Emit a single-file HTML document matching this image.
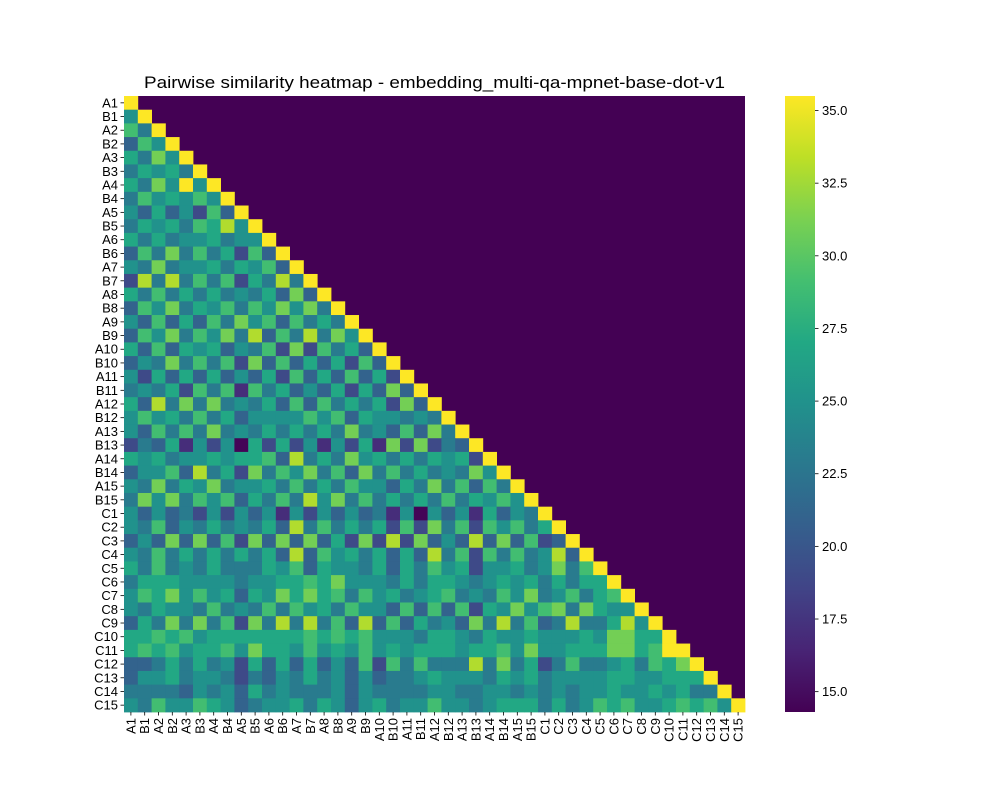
<!DOCTYPE html>
<html><head><meta charset="utf-8">
<style>
body{margin:0;background:#fff;font-family:"Liberation Sans",sans-serif;}
svg text{font-family:"Liberation Sans",sans-serif;}
</style></head>
<body>
<svg id="chart" width="1000" height="800" xmlns="http://www.w3.org/2000/svg">
<rect width="1000" height="800" fill="#fff"/>
<text x="434.5" y="88" font-size="16.5" text-anchor="middle" textLength="581" lengthAdjust="spacingAndGlyphs" fill="#000">Pairwise similarity heatmap - embedding_multi-qa-mpnet-base-dot-v1</text>
<g id="cells"></g>
<g id="ylab"></g>
<g id="xlab"></g>
<defs><linearGradient id="vir" x1="0" y1="1" x2="0" y2="0"></linearGradient></defs>
<rect x="785" y="96" width="30" height="616" fill="url(#vir)"/>
<g id="cbticks"></g>
</svg>
<script>
const labels = ["A1","B1","A2","B2","A3","B3","A4","B4","A5","B5","A6","B6","A7","B7","A8","B8","A9","B9","A10","B10","A11","B11","A12","B12","A13","B13","A14","B14","A15","B15","C1","C2","C3","C4","C5","C6","C7","C8","C9","C10","C11","C12","C13","C14","C15"];
const cbTicks = [15,17.5,20,22.5,25,27.5,30,32.5,35];
const vmin = 14.3, vmax = 35.5;
const values = [
[35.5],
[25,35.5],
[29,23,35.5],
[21,29,25,35.5],
[27,23,31,25,35.5],
[23,27,25,27,23,35.5],
[27,23,31,25,35.5,25,35.5],
[23,29,25,27,25,29,25,35.5],
[25,21,27,21,25,19,29,21,35.5],
[23,27,25,27,23,29,27,33,25,35.5],
[27,23,27,23,25,25,27,23,25,25,35.5],
[21,29,23,31,23,29,23,27,19,29,21,35.5],
[25,23,31,23,25,25,27,23,27,25,29,21,35.5],
[19,33,23,33,23,29,23,29,19,27,23,33,23,35.5],
[27,23,29,23,27,23,27,23,25,23,27,21,31,21,35.5],
[21,29,25,31,23,27,25,29,23,29,25,31,25,31,23,35.5],
[25,21,29,21,27,21,29,23,31,25,29,21,29,23,27,23,35.5],
[21,29,25,31,23,29,25,31,23,33,21,29,23,33,23,31,25,35.5],
[27,21,29,21,27,25,27,21,25,23,29,19,31,19,29,23,27,21,35.5],
[21,25,23,31,23,29,23,29,19,31,21,29,21,27,21,27,19,29,21,35.5],
[25,19,27,21,27,21,27,21,25,21,27,19,29,21,27,21,29,21,27,19,35.5],
[23,25,23,27,19,29,23,29,17,29,23,27,21,25,21,27,19,27,21,31,21,35.5],
[27,21,33,23,31,23,31,23,25,23,27,21,29,21,29,23,27,23,27,19,31,21,35.5],
[25,29,25,27,23,29,23,27,21,25,25,25,25,29,25,29,21,27,25,25,23,25,23,35.5],
[25,21,29,23,29,23,31,23,25,23,27,23,27,23,27,23,31,23,25,21,29,21,31,23,35.5],
[19,23,21,27,17,25,19,25,14.5,27,19,27,19,25,17,25,19,27,17,31,19,31,19,23,21,35.5],
[27,25,27,23,25,25,27,25,27,27,29,21,33,23,27,23,31,25,27,23,27,23,27,25,27,19,35.5],
[21,25,25,29,21,33,23,27,19,31,23,29,25,31,23,29,21,31,23,29,23,27,23,25,23,31,25,35.5],
[25,23,31,23,27,25,31,23,25,25,27,23,29,23,27,23,29,25,25,21,27,23,31,23,29,21,29,23,35.5],
[23,31,25,31,23,29,25,29,21,27,23,29,23,33,25,31,23,29,23,27,23,27,23,29,23,27,25,29,25,35.5],
[25,21,25,21,23,19,25,19,25,21,25,17,25,19,25,21,25,21,23,17,25,14.5,25,21,25,17,27,21,25,23,35.5],
[25,23,29,21,25,23,27,23,25,23,27,21,33,23,29,23,27,23,27,19,29,19,31,23,29,19,29,25,29,23,27,35.5],
[21,25,21,31,21,31,21,29,19,31,21,31,21,31,21,27,19,31,19,33,19,31,21,25,21,33,21,31,21,29,19,21,35.5],
[25,23,29,23,27,23,27,23,27,23,27,21,33,21,29,25,27,23,27,21,27,21,33,23,29,19,29,23,29,23,25,33,21,35.5],
[27,23,29,23,25,23,27,23,23,23,27,25,29,21,27,25,25,23,27,21,27,23,29,25,27,19,25,25,27,23,25,31,23,29,35.5],
[23,27,27,27,25,25,25,25,23,25,25,27,27,29,27,31,25,25,25,23,27,23,27,27,25,23,25,27,25,27,23,27,23,27,27,35.5],
[25,29,27,31,25,29,25,27,21,27,25,31,27,31,27,29,23,29,25,27,23,25,27,29,23,25,23,29,25,31,23,25,29,23,27,29,35.5],
[25,23,27,25,25,23,29,23,25,23,29,23,29,25,27,23,29,25,25,21,29,21,29,21,29,19,27,25,31,25,29,31,23,31,27,25,25,35.5],
[21,27,23,31,23,31,23,29,19,31,23,33,23,33,23,29,21,33,21,29,21,27,23,25,21,31,23,33,23,29,21,23,33,23,23,27,33,25,35.5],
[27,27,29,27,29,25,27,27,27,27,27,27,27,29,27,29,27,29,25,25,25,23,27,27,25,23,27,25,25,27,25,25,25,27,25,31,31,27,27,35.5],
[27,29,27,29,25,27,27,29,25,31,27,27,25,29,25,27,25,29,25,27,25,27,27,27,25,27,27,29,25,31,25,25,27,27,27,31,31,27,29,35.5,35.5],
[21,21,23,27,23,27,23,25,19,27,21,27,21,27,21,25,21,29,19,29,23,29,23,23,23,33,23,31,23,27,19,23,29,23,23,25,27,23,29,27,31,35.5],
[21,25,25,27,23,25,25,23,19,23,21,25,23,27,23,25,21,25,21,23,23,25,27,25,25,25,23,27,25,27,23,25,25,25,25,27,27,25,25,27,27,27,35.5],
[23,23,23,23,21,25,23,25,21,27,23,25,23,23,23,25,21,25,23,23,23,23,25,25,23,23,25,25,23,25,23,25,23,25,25,27,25,25,27,25,27,23,23,35.5],
[25,23,29,25,25,29,27,25,21,23,25,25,27,23,27,25,21,25,27,23,25,25,29,25,25,23,25,27,27,27,23,27,23,25,29,27,29,25,25,27,29,27,29,25,35.5]
];
const NS = "http://www.w3.org/2000/svg";
const stops = ["#440154","#482475","#414487","#355f8d","#2a788e","#21918c","#22a884","#44bf70","#7ad151","#bddf26","#fde725"];
function hex(h){return [1,3,5].map(i=>parseInt(h.substr(i,2),16));}
function viridis(t){t=Math.max(0,Math.min(1,t));const p=t*10,i=Math.min(9,Math.floor(p)),f=p-i;const a=hex(stops[i]),b=hex(stops[i+1]);return "rgb("+a.map((v,k)=>Math.round(v+(b[k]-v)*f)).join(",")+")";}
const L=124,T=96,W=621,H=616,n=labels.length,cw=W/n,ch=H/n;
const xScale=c=>L+c*cw, yScale=r=>T+r*ch;
const colorScale=v=>viridis((v-vmin)/(vmax-vmin));
const cells=document.getElementById("cells");
const bg=document.createElementNS(NS,"rect");
bg.setAttribute("x",L);bg.setAttribute("y",T);bg.setAttribute("width",W);bg.setAttribute("height",H);bg.setAttribute("fill",colorScale(vmin));


cells.appendChild(bg);
for(let r=0;r<n;r++){for(let c=0;c<Math.min(values[r].length,r+1);c++){
 const e=document.createElementNS(NS,"rect");
 e.setAttribute("x",xScale(c));e.setAttribute("y",yScale(r));
 e.setAttribute("width",cw+0.4);e.setAttribute("height",ch+0.4);
 e.setAttribute("fill",colorScale(values[r][c]));
 
 
 cells.appendChild(e);
}}
const yl=document.getElementById("ylab"),xl=document.getElementById("xlab");
labels.forEach((lab,i)=>{
 const y=yScale(i)+ch/2;
 const tk=document.createElementNS(NS,"line");
 tk.setAttribute("x1",L-3.5);tk.setAttribute("x2",L);tk.setAttribute("y1",y);tk.setAttribute("y2",y);tk.setAttribute("stroke","#000");tk.setAttribute("stroke-width","0.8");
 
 
 yl.appendChild(tk);
 const t=document.createElementNS(NS,"text");
 t.setAttribute("x",L-6);t.setAttribute("y",y+4.5);t.setAttribute("font-size","13");t.setAttribute("text-anchor","end");t.textContent=lab;
 
 
 yl.appendChild(t);
 const x=xScale(i)+cw/2;
 const tx=document.createElementNS(NS,"line");
 tx.setAttribute("x1",x);tx.setAttribute("x2",x);tx.setAttribute("y1",T+H);tx.setAttribute("y2",T+H+3.5);tx.setAttribute("stroke","#000");tx.setAttribute("stroke-width","0.8");
 
 
 xl.appendChild(tx);
 const u=document.createElementNS(NS,"text");
 u.setAttribute("transform","translate("+(x+4.5)+","+(T+H+6)+") rotate(-90)");
 u.setAttribute("font-size","13");u.setAttribute("text-anchor","end");u.textContent=lab;
 
 
 xl.appendChild(u);
});
const g=document.getElementById("vir");
stops.forEach((s,i)=>{const st=document.createElementNS(NS,"stop");st.setAttribute("offset",i/10);st.setAttribute("stop-color",s);g.appendChild(st);});
const cb=document.getElementById("cbticks");
const cbY=v=>T+H-(v-vmin)/(vmax-vmin)*H;
cbTicks.forEach(v=>{
 const y=cbY(v);
 const l=document.createElementNS(NS,"line");
 l.setAttribute("x1",815);l.setAttribute("x2",818.5);l.setAttribute("y1",y);l.setAttribute("y2",y);l.setAttribute("stroke","#000");l.setAttribute("stroke-width","0.8");
 
 
 cb.appendChild(l);
 const t=document.createElementNS(NS,"text");
 t.setAttribute("x",822);t.setAttribute("y",y+4.5);t.setAttribute("font-size","13");t.textContent=v.toFixed(1);
 
 
 cb.appendChild(t);
});
</script>
</body></html>
